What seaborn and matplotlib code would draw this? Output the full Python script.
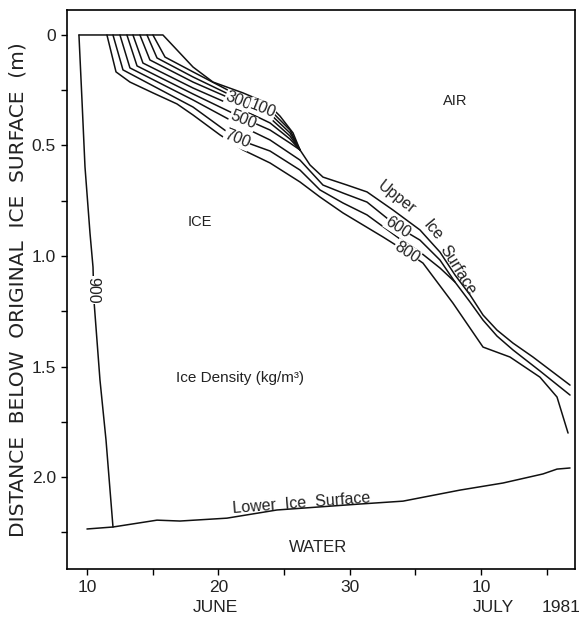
import matplotlib
matplotlib.use("Agg")
import matplotlib.pyplot as plt
import numpy as np
import pandas as pd
import seaborn as sns

# ---- data (x = day counted from 1 June 1981, July d = 30 + d; y = depth in m) ----
upper_day = [9.39, 15.78, 18.07, 19.59, 21.87, 23.70, 24.69, 25.68, 26.21, 26.97, 27.96,
             29.79, 31.31, 33.29, 35.34, 36.86, 38.01, 39.15, 40.14, 41.20, 42.42, 43.94, 46.76]
upper_depth = [0.0, 0.0, 0.145, 0.213, 0.262, 0.308, 0.367, 0.443, 0.520, 0.588, 0.643,
               0.679, 0.710, 0.792, 0.882, 0.982, 1.086, 1.176, 1.267, 1.335, 1.394, 1.457, 1.584]

c100_day = [15.02, 15.94, 18.07, 21.87, 23.93, 25.45, 26.21]
c100_depth = [0.0, 0.100, 0.167, 0.285, 0.339, 0.430, 0.520]
c200_day = [14.57, 15.33, 18.07, 21.87, 23.93, 25.45, 26.21]
c200_depth = [0.0, 0.104, 0.190, 0.299, 0.357, 0.443, 0.520]
c300_day = [14.03, 14.79, 18.07, 21.87, 23.93, 25.45, 26.21]
c300_depth = [0.0, 0.113, 0.213, 0.312, 0.376, 0.457, 0.520]
c400_day = [13.50, 14.26, 18.07, 21.87, 23.93, 25.45, 26.21]
c400_depth = [0.0, 0.127, 0.240, 0.339, 0.398, 0.471, 0.520]
c500_day = [13.04, 13.81, 18.07, 21.87, 23.93, 25.45, 26.21]
c500_depth = [0.0, 0.140, 0.267, 0.376, 0.430, 0.489, 0.520]
c600_day = [12.51, 13.27, 18.07, 21.87, 23.93, 26.21, 27.96, 29.48, 31.31, 33.67, 35.34,
            36.86, 38.01, 39.15, 40.14, 41.20, 42.42, 44.47, 46.76]
c600_depth = [0.0, 0.149, 0.294, 0.416, 0.475, 0.566, 0.679, 0.715, 0.756, 0.869, 0.928,
              1.018, 1.118, 1.208, 1.290, 1.362, 1.425, 1.520, 1.629]
c700_day = [11.98, 12.74, 18.07, 21.42, 23.93, 26.21, 27.73, 29.48, 31.31, 33.82, 35.34,
            36.86, 38.01]
c700_depth = [0.0, 0.158, 0.326, 0.471, 0.525, 0.611, 0.701, 0.760, 0.814, 0.923, 0.982,
              1.054, 1.118]
c800_day = [11.52, 12.21, 13.27, 15.02, 16.85, 18.07, 20.12, 21.87, 23.93, 26.21, 27.73,
            29.48, 32.53, 34.35, 35.57, 37.85, 40.14, 42.19, 44.47, 45.77, 46.61]
c800_depth = [0.0, 0.167, 0.213, 0.262, 0.312, 0.362, 0.452, 0.520, 0.579, 0.665, 0.733,
              0.805, 0.914, 0.982, 1.032, 1.213, 1.412, 1.457, 1.548, 1.638, 1.801]
c900_day = [9.39, 9.62, 9.85, 10.23, 10.46, 10.53, 10.99, 11.45, 11.98]
c900_depth = [0.0, 0.294, 0.597, 0.896, 1.050, 1.199, 1.561, 1.833, 2.226]

lower_day = [10.0, 11.98, 15.33, 17.08, 20.65, 24.46, 30.78, 34.05, 38.39, 41.66, 44.70, 45.77, 46.76]
lower_depth = [2.235, 2.226, 2.195, 2.199, 2.186, 2.149, 2.122, 2.109, 2.059, 2.027, 1.986, 1.964, 1.959]

# contour labels: text, day, depth, rotation
clabel_text = ["300", "100", "500", "700", "600", "800", "900"]
clabel_day = [21.50, 23.35, 21.87, 21.42, 33.67, 34.35, 10.46]
clabel_depth = [0.300, 0.335, 0.385, 0.471, 0.869, 0.982, 1.154]
clabel_rot = [-22, -22, -22, -22, -33, -33, 270]

xtick_pos = [10, 20, 30, 40]
xtick_lab = ["10", "20", "30", "10"]
xminor_pos = [15, 25, 35, 45]
ytick_pos = [0, 0.5, 1.0, 1.5, 2.0]
ytick_lab = ["0", "0.5", "1.0", "1.5", "2.0"]
yminor_pos = [0.25, 0.75, 1.25, 1.75, 2.25]

# ---- build a long table ----
series = {
    "upper": (upper_day, upper_depth), "c100": (c100_day, c100_depth),
    "c200": (c200_day, c200_depth), "c300": (c300_day, c300_depth),
    "c400": (c400_day, c400_depth), "c500": (c500_day, c500_depth),
    "c600": (c600_day, c600_depth), "c700": (c700_day, c700_depth),
    "c800": (c800_day, c800_depth), "c900": (c900_day, c900_depth),
    "lower": (lower_day, lower_depth),
}
frames = []
for name, (d, z) in series.items():
    frames.append(pd.DataFrame({"day": d, "depth": z, "line": name,
                                "order": np.arange(len(d))}))
df = pd.concat(frames, ignore_index=True)

sns.set_theme(style="ticks")
plt.rcParams["font.family"] = ["Liberation Sans", "DejaVu Sans"]
TXT = "#222222"

fig = plt.figure(figsize=(5.81, 6.17), dpi=100)
ax = fig.add_axes([0.1153, 0.0778, 0.8744, 0.906])

sns.lineplot(data=df, x="day", y="depth", units="line", estimator=None, sort=False,
             color="#111111", linewidth=1.1, legend=False, ax=ax)

ax.set_xlim(8.48, 47.14)
ax.set_ylim(2.416, -0.113)

ax.set_xticks(xtick_pos)
ax.set_xticklabels(xtick_lab)
ax.set_xticks(xminor_pos, minor=True)
ax.set_yticks(ytick_pos)
ax.set_yticklabels(ytick_lab)
ax.set_yticks(yminor_pos, minor=True)
ax.tick_params(axis="both", which="major", direction="out", length=4, width=1.0,
               labelsize=12.5, color="black", labelcolor=TXT, pad=4)
ax.tick_params(axis="both", which="minor", direction="out", length=4, width=1.0,
               color="black")
for s in ax.spines.values():
    s.set_visible(True)
    s.set_linewidth(1.2)
    s.set_color("black")

ax.set_xlabel("")
ax.set_ylabel("DISTANCE  BELOW  ORIGINAL  ICE  SURFACE  (m)", fontsize=14.5,
              family="DejaVu Sans", color=TXT, labelpad=3)

# contour labels (break the lines with white boxes)
for t, d, z, r in zip(clabel_text, clabel_day, clabel_depth, clabel_rot):
    ax.text(d, z, t, rotation=r, ha="center", va="center", fontsize=11.5,
            color=TXT, rotation_mode="anchor",
            bbox=dict(facecolor="white", edgecolor="none", pad=0.4))

ax.text(38.0, 0.30, "AIR", ha="center", va="center", fontsize=10.5, color=TXT)
ax.text(18.6, 0.846, "ICE", ha="center", va="center", fontsize=10.5, color=TXT)
ax.text(21.64, 1.552, "Ice Density (kg/m³)", ha="center", va="center", fontsize=11,
        color=TXT)
ax.text(26.36, 2.118, "Lower  Ice  Surface", ha="center", va="center", fontsize=11.5,
        rotation=4.4, rotation_mode="anchor", color=TXT)
ax.text(27.58, 2.317, "WATER", ha="center", va="center", fontsize=12, color=TXT)
ax.text(33.55, 0.735, "Upper", ha="center", va="center", fontsize=11.5, rotation=-38,
        rotation_mode="anchor", color=TXT)
ax.text(36.30, 0.885, "Ice", ha="center", va="center", fontsize=11.5, rotation=-50,
        rotation_mode="anchor", color=TXT)
ax.text(38.25, 1.063, "Surface", ha="center", va="center", fontsize=11.5, rotation=-58,
        rotation_mode="anchor", color=TXT)

fig.text(215 / 581, 1 - 608 / 617, "JUNE", ha="center", va="center", fontsize=12.5,
         color=TXT)
fig.text(493 / 581, 1 - 608 / 617, "JULY", ha="center", va="center", fontsize=12.5,
         color=TXT)
fig.text(561 / 581, 1 - 608 / 617, "1981", ha="center", va="center", fontsize=12.5,
         color=TXT)

fig.savefig("out.png", dpi=100, facecolor="white")
